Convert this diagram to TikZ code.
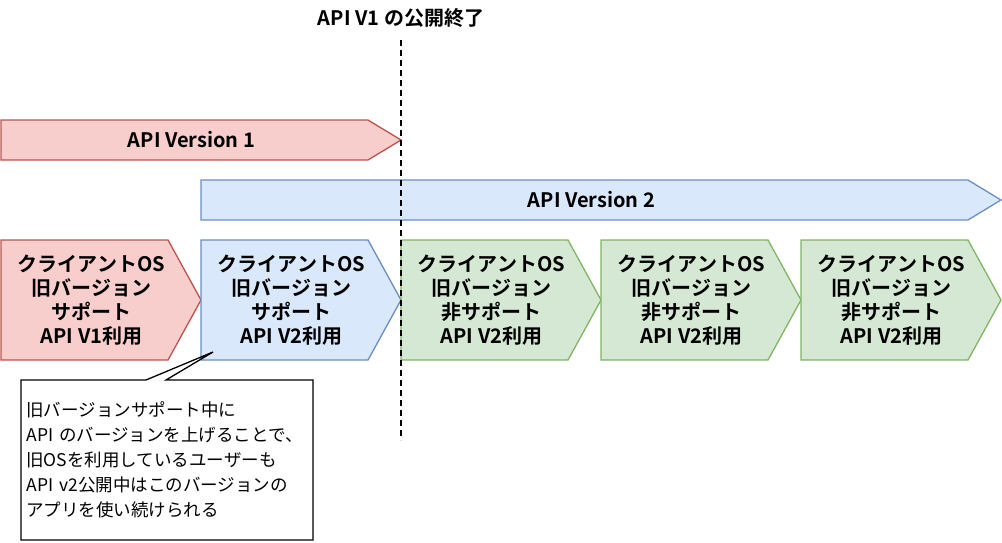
\documentclass[tikz,border=0pt]{standalone}
\usepackage{fontspec}
\setmainfont{Noto Sans CJK JP}[BoldFont={Noto Sans CJK JP Bold}]
\usepackage{tikz}
\usetikzlibrary{positioning, shapes.symbols}
\definecolor{redfill}{HTML}{F8CECC}
\definecolor{redline}{HTML}{B85450}
\definecolor{bluefill}{HTML}{DAE8FC}
\definecolor{blueline}{HTML}{6C8EBF}
\definecolor{greenfill}{HTML}{D5E8D4}
\definecolor{greenline}{HTML}{82B366}
\tikzset{
	x=1pt, y=-1pt,
	node distance=0pt,
	every node/.style={inner sep=0pt, outer sep=0pt},
	bold text/.style={font=\bfseries\fontsize{20}{24}\selectfont, align=center},
	period/.style={shape=signal, signal to=east, signal from=nowhere, anchor=west,
		signal pointer angle=62.4, minimum width=400pt, minimum height=40pt, line width=1.3pt,
		label={[bold text, xshift=7pt]center:#1}},
	phase/.style={shape=signal, signal to=east, signal from=nowhere, anchor=west,
		signal pointer angle=122.4, minimum width=200pt, minimum height=120pt, line width=1.3pt,
		label={[bold text, xshift=7pt]center:#1}},
	old/.style={draw=redline, fill=redfill},
	cur/.style={draw=blueline, fill=bluefill},
	new/.style={draw=greenline, fill=greenfill},
	note/.style={font=\fontsize{17.5}{25}\selectfont, align=left, text width=281pt,
		inner xsep=5.5pt, minimum height=160pt, anchor=north west}
}
\begin{document}
\begin{tikzpicture}
	\useasboundingbox (0,0) rectangle (1002,542);
	\node[bold text] (eol) at (401,18) {API V1 の公開終了};

	% API versions
	\node[period={API Version 1}, old] (v1) at (1,140) {};
	\node[period={API Version 2}, cur, minimum width=800pt] (v2) at (201,200) {};

	% client OS phases
	\node[phase={クライアントOS\\旧バージョン\\サポート\\API V1利用}, old] (c1) at (1,300) {};
	\node[phase={クライアントOS\\旧バージョン\\サポート\\API V2利用}, cur, right=of c1] (c2) {};
	\node[phase={クライアントOS\\旧バージョン\\非サポート\\API V2利用}, new, right=of c2] (c3) {};
	\node[phase={クライアントOS\\旧バージョン\\非サポート\\API V2利用}, new, right=of c3] (c4) {};
	\node[phase={クライアントOS\\旧バージョン\\非サポート\\API V2利用}, new, right=of c4] (c5) {};

	% end of V1
	\coordinate (eol top) at (401,40);
	\coordinate (eol bottom) at (401,440);
	\draw[line width=1.5pt, dash pattern=on 6pt off 4pt] (eol top) -- (eol bottom);

	% callout
	\node[note] (memo) at (21,380) {旧バージョンサポート中に\\API のバージョンを上げることで、\\旧OSを利用しているユーザーも\\API v2公開中はこのバージョンの\\アプリを使い続けられる};
	\coordinate (pin) at (213,352);
	\draw[line width=1.3pt]
		(memo.north west) -- ([xshift=125pt]memo.north west) -- (pin)
		-- ([xshift=145pt]memo.north west) -- (memo.north east)
		-- (memo.south east) -- (memo.south west) -- cycle;
\end{tikzpicture}
\end{document}
